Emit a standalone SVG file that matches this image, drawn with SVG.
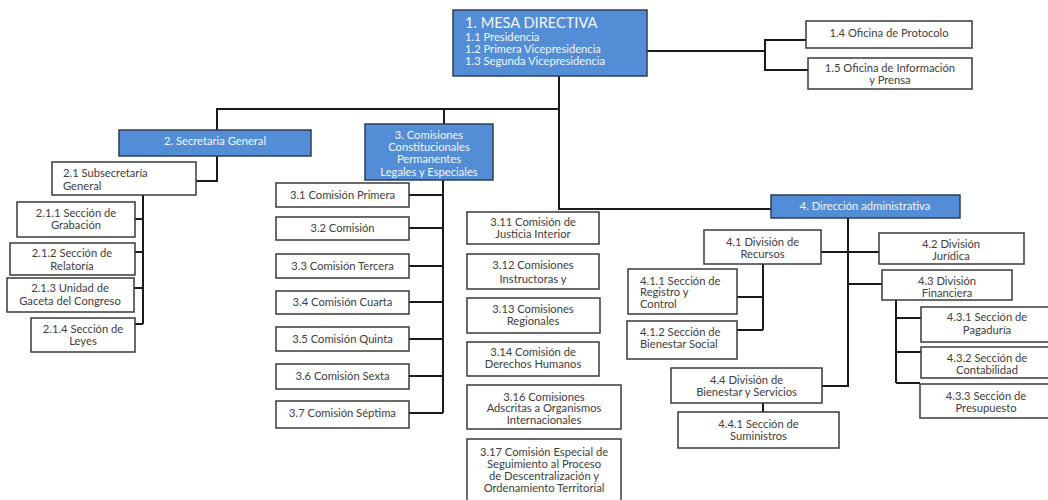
<svg xmlns="http://www.w3.org/2000/svg" width="1048" height="500" viewBox="0 0 1048 500">
<style>
.b{fill:#ffffff;stroke:#3a3a3a;stroke-width:1.5}
.h{fill:#538dd5;stroke:#2f3e55;stroke-width:1.5}
.t{font-family:Lato,"Open Sans",sans-serif;font-size:11.2px;fill:#404040;text-anchor:middle}
.l{text-anchor:start}
.w{fill:#f2f6fc}
.big{font-size:14.6px}
.c{fill:none;stroke:#1a1a1a;stroke-width:2}
</style>
<rect width="1048" height="500" fill="#ffffff"/>
<g id="connectors" class="c">
<path d="M559,76V209H771"/>
<path d="M217,130V109H559"/>
<path d="M444,109V124"/>
<path d="M647,51H765M806,40H765V70H808"/>
<path d="M217,156V181H196"/>
<path d="M143,195V324M143,219H135M143,252H135M143,288H134M143,324H135"/>
<path d="M443,180V413M443,195H409M443,228H409M443,266H409M443,302H409M443,339H409M443,376H409M443,413H409"/>
<path d="M848,218V386H822"/>
<path d="M821,252H879M848,284H882"/>
<path d="M763,264V330M763,297H737M763,330H737"/>
<path d="M763,403V412"/>
<path d="M896,300V383M896,318H921M896,352H921M896,383H920"/>
</g>
<g id="n1"><rect class="h" x="453" y="10" width="194" height="66"/>
<text class="t l w big" x="465" y="28">1. MESA DIRECTIVA</text>
<text class="t l w" x="465" y="41">1.1 Presidencia</text>
<text class="t l w" x="465" y="53">1.2 Primera Vicepresidencia</text>
<text class="t l w" x="465" y="65">1.3 Segunda Vicepresidencia</text></g>
<g id="n14"><rect class="b" x="806" y="21" width="166" height="27"/><text class="t" x="889" y="37">1.4 Oficina de Protocolo</text></g>
<g id="n15"><rect class="b" x="808" y="58" width="164" height="31"/><text class="t" x="890" y="72">1.5 Oficina de Información</text><text class="t" x="890" y="84">y Prensa</text></g>
<g id="n2"><rect class="h" x="119" y="130" width="192" height="26"/><text class="t w" x="215" y="145">2. Secretaria General</text></g>
<g id="n21"><rect class="b" x="52" y="162" width="144" height="33"/><text class="t l" x="63" y="177">2.1 Subsecretaría</text><text class="t l" x="63" y="190">General</text></g>
<g id="n211"><rect class="b" x="17" y="202" width="118" height="35"/><text class="t" x="76" y="217">2.1.1 Sección de</text><text class="t" x="76" y="229">Grabación</text></g>
<g id="n212"><rect class="b" x="10" y="243" width="125" height="32"/><text class="t" x="72" y="257">2.1.2 Sección de</text><text class="t" x="72" y="270">Relatoría</text></g>
<g id="n213"><rect class="b" x="7" y="278" width="127" height="34"/><text class="t" x="70" y="292">2.1.3 Unidad de</text><text class="t" x="70" y="305">Gaceta del Congreso</text></g>
<g id="n214"><rect class="b" x="31" y="318" width="104" height="34"/><text class="t" x="83" y="333">2.1.4 Sección de</text><text class="t" x="83" y="345">Leyes</text></g>
<g id="n3"><rect class="h" x="365" y="124" width="128" height="56"/>
<text class="t w" x="429" y="139">3. Comisiones</text><text class="t w" x="429" y="151">Constitucionales</text><text class="t w" x="429" y="163">Permanentes</text><text class="t w" x="429" y="176">Legales y Especiales</text></g>
<g id="n31"><rect class="b" x="276" y="183" width="133" height="24"/><text class="t" x="342.5" y="199">3.1 Comisión Primera</text></g>
<g id="n32"><rect class="b" x="276" y="217" width="133" height="23"/><text class="t" x="342.5" y="232">3.2 Comisión</text></g>
<g id="n33"><rect class="b" x="276" y="254" width="133" height="24"/><text class="t" x="342.5" y="270">3.3 Comisión Tercera</text></g>
<g id="n34"><rect class="b" x="276" y="291" width="133" height="23"/><text class="t" x="342.5" y="306">3.4 Comisión Cuarta</text></g>
<g id="n35"><rect class="b" x="276" y="327" width="133" height="24"/><text class="t" x="342.5" y="343">3.5 Comisión Quinta</text></g>
<g id="n36"><rect class="b" x="276" y="364" width="133" height="25"/><text class="t" x="342.5" y="380">3.6 Comisión Sexta</text></g>
<g id="n37"><rect class="b" x="276" y="401" width="133" height="27"/><text class="t" x="342.5" y="417">3.7 Comisión Séptima</text></g>
<g id="n311"><rect class="b" x="467" y="212" width="132" height="32"/><text class="t" x="533" y="226">3.11 Comisión de</text><text class="t" x="533" y="238">Justicia Interior</text></g>
<g id="n312"><rect class="b" x="467" y="254" width="132" height="35"/><text class="t" x="533" y="269">3.12 Comisiones</text><text class="t" x="533" y="283">Instructoras y</text></g>
<g id="n313"><rect class="b" x="467" y="298" width="133" height="35"/><text class="t" x="533" y="313">3.13 Comisiones</text><text class="t" x="533" y="325">Regionales</text></g>
<g id="n314"><rect class="b" x="467" y="342" width="132" height="34"/><text class="t" x="533" y="356">3.14 Comisión de</text><text class="t" x="533" y="368">Derechos Humanos</text></g>
<g id="n316"><rect class="b" x="467" y="385" width="154" height="44"/><text class="t" x="544" y="401">3.16 Comisiones</text><text class="t" x="544" y="412">Adscritas a Organismos</text><text class="t" x="544" y="424">Internacionales</text></g>
<g id="n317"><rect class="b" x="467" y="439" width="154" height="70"/><text class="t" x="544" y="456">3.17 Comisión Especial de</text><text class="t" x="544" y="468">Seguimiento al Proceso</text><text class="t" x="544" y="480">de Descentralización y</text><text class="t" x="544" y="492">Ordenamiento Territorial</text></g>
<g id="n4"><rect class="h" x="771" y="195" width="189" height="23"/><text class="t w" x="865" y="210">4. Dirección administrativa</text></g>
<g id="n41"><rect class="b" x="704" y="230" width="117" height="34"/><text class="t" x="762.5" y="246">4.1 División de</text><text class="t" x="762.5" y="258">Recursos</text></g>
<g id="n42"><rect class="b" x="879" y="233" width="145" height="31"/><text class="t" x="951" y="248">4.2 División</text><text class="t" x="951" y="260">Jurídica</text></g>
<g id="n43"><rect class="b" x="882" y="270" width="130" height="30"/><text class="t" x="947" y="285">4.3 División</text><text class="t" x="947" y="297">Financiera</text></g>
<g id="n411"><rect class="b" x="628" y="269" width="109" height="45"/><text class="t l" x="640" y="285">4.1.1 Sección de</text><text class="t l" x="640" y="296">Registro y</text><text class="t l" x="640" y="308">Control</text></g>
<g id="n412"><rect class="b" x="627" y="321" width="110" height="38"/><text class="t l" x="640" y="336">4.1.2 Sección de</text><text class="t l" x="640" y="348">Bienestar Social</text></g>
<g id="n44"><rect class="b" x="671" y="368" width="151" height="35"/><text class="t" x="746.5" y="384">4.4 División de</text><text class="t" x="746.5" y="396">Bienestar y Servicios</text></g>
<g id="n441"><rect class="b" x="678" y="412" width="161" height="36"/><text class="t" x="758.5" y="428">4.4.1 Sección de</text><text class="t" x="758.5" y="440">Suministros</text></g>
<g id="n431"><rect class="b" x="921" y="307" width="140" height="35"/><text class="t" x="987" y="321">4.3.1 Sección de</text><text class="t" x="987" y="334">Pagaduría</text></g>
<g id="n432"><rect class="b" x="921" y="347" width="140" height="31"/><text class="t" x="987" y="362">4.3.2 Sección de</text><text class="t" x="987" y="374">Contabilidad</text></g>
<g id="n433"><rect class="b" x="920" y="384" width="140" height="34"/><text class="t" x="986" y="400">4.3.3 Sección de</text><text class="t" x="986" y="412">Presupuesto</text></g>
</svg>
